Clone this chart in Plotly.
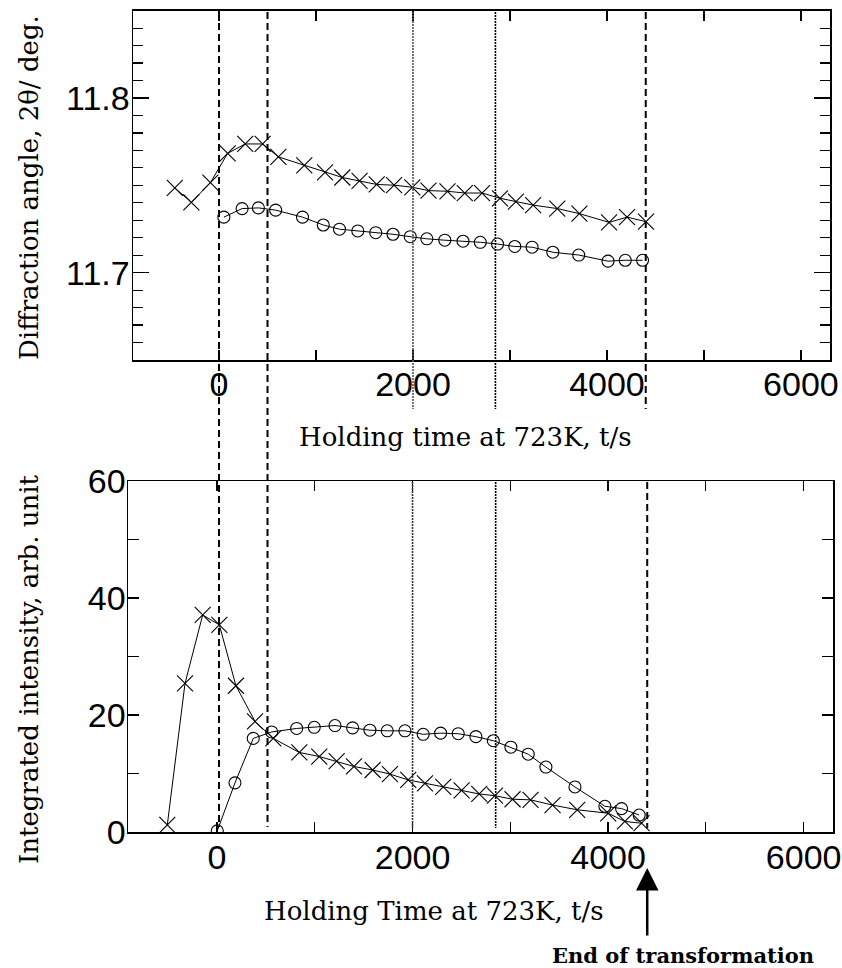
import plotly.graph_objects as go

W, H = 842, 968

# ---------------- data ----------------
top_cross_t = [-456, -285, -89, 89, 270, 450, 612, 879, 1093, 1271, 1449, 1626, 1805, 1993,
               2160, 2356, 2534, 2712, 2897, 3061, 3239, 3488, 3716, 4022, 4207, 4403]
top_cross_v = [11.7485, 11.7403, 11.7515, 11.7683, 11.7737, 11.7737, 11.7663, 11.7614, 11.7574,
               11.7545, 11.7525, 11.7505, 11.7501, 11.7489, 11.7470, 11.7466, 11.7456, 11.7456,
               11.7426, 11.7407, 11.7387, 11.7367, 11.7338, 11.7288, 11.7318, 11.7292]

top_circ_t = [50, 238, 406, 584, 861, 1075, 1242, 1431, 1616, 1794, 1972, 2143, 2328, 2516,
              2694, 2872, 3050, 3228, 3442, 3709, 4011, 4189, 4367]
top_circ_v = [11.7318, 11.7367, 11.7371, 11.7358, 11.7318, 11.7273, 11.7249, 11.7239, 11.7229,
              11.7220, 11.7206, 11.7194, 11.7186, 11.7180, 11.7174, 11.7164, 11.7150, 11.7146,
              11.7117, 11.7101, 11.7066, 11.7071, 11.7071]

bot_cross_t = [-508, -327, -146, 24, 194, 389, 576, 842, 1046, 1224, 1401, 1592, 1769, 1956,
               2127, 2314, 2502, 2682, 2843, 3023, 3207, 3432, 3684, 4001, 4172, 4342]
bot_cross_v = [1.2, 25.4, 37.1, 35.4, 25.0, 18.9, 16.0, 13.6, 12.9, 12.1, 11.2, 10.6, 9.9, 8.9,
               8.3, 7.7, 7.1, 6.5, 6.2, 5.6, 5.5, 4.6, 3.8, 3.2, 1.8, 1.5]

bot_circ_t = [3, 184, 371, 559, 815, 995, 1207, 1387, 1564, 1741, 1922, 2109, 2287, 2467,
              2648, 2826, 3006, 3183, 3364, 3661, 3967, 4138, 4318]
bot_circ_v = [0.2, 8.4, 16.0, 17.1, 17.7, 17.9, 18.2, 17.8, 17.4, 17.3, 17.3, 16.7, 16.9, 16.8,
              16.3, 15.6, 14.5, 13.3, 11.1, 7.7, 4.4, 4.0, 2.9]

x_ticks = [0, 2000, 4000, 6000]
top_y_ticks = [11.7, 11.8]
bot_y_ticks = [0, 20, 40, 60]
stage_times = [0, 500, 2000, 2850, 4400]
end_time = 4400

# ---------------- figure ----------------
def px_x(p):
    return p / W

def px_y(p):
    return 1 - p / H

fig = go.Figure()

cross_marker = dict(symbol="x-thin", size=16, color="black", line=dict(width=1.1, color="black"))
circ_marker = dict(symbol="circle-open", size=12, color="black", line=dict(width=1.1))

fig.add_trace(go.Scatter(x=top_cross_t, y=top_cross_v, mode="lines+markers",
                         line=dict(color="black", width=1), marker=cross_marker,
                         xaxis="x", yaxis="y", showlegend=False))
fig.add_trace(go.Scatter(x=top_circ_t, y=top_circ_v, mode="lines+markers",
                         line=dict(color="black", width=1), marker=circ_marker,
                         xaxis="x", yaxis="y", showlegend=False))
fig.add_trace(go.Scatter(x=bot_cross_t, y=bot_cross_v, mode="lines+markers",
                         line=dict(color="black", width=1), marker=cross_marker,
                         xaxis="x2", yaxis="y2", showlegend=False))
fig.add_trace(go.Scatter(x=bot_circ_t, y=bot_circ_v, mode="lines+markers",
                         line=dict(color="black", width=1), marker=circ_marker,
                         xaxis="x2", yaxis="y2", showlegend=False))

tickfont = dict(family="Liberation Sans, Arial, sans-serif", size=34, color="black")
common = dict(showline=True, linecolor="black", linewidth=1.5, mirror="ticks",
              ticks="inside", showgrid=False, zeroline=False, tickfont=tickfont,
              tickcolor="black", tickwidth=1.2)

fig.update_layout(
    width=W, height=H,
    margin=dict(l=0, r=0, t=0, b=0, autoexpand=False),
    paper_bgcolor="white", plot_bgcolor="white",
    hovermode=False,
    xaxis=dict(domain=[px_x(133), px_x(830)], range=[-887, 6300], anchor="y",
               tickvals=x_ticks, ticktext=[str(v) for v in x_ticks], ticklen=10,
               ticklabelstandoff=-6,
               minor=dict(dtick=1000, tick0=0, ticks="inside", ticklen=10, tickcolor="black"),
               **common),
    yaxis=dict(domain=[px_y(360), px_y(10.7)], range=[11.65, 11.85], anchor="x",
               tickvals=top_y_ticks, ticktext=["11.7", "11.8"], ticklen=16,
               ticklabelstandoff=-5,
               minor=dict(dtick=0.01, tick0=11.6, ticks="inside", ticklen=10, tickcolor="black"),
               **common),
    xaxis2=dict(domain=[px_x(128), px_x(833)], range=[-910, 6300], anchor="y2",
                tickvals=x_ticks, ticktext=[str(v) for v in x_ticks], ticklen=10,
                ticklabelstandoff=-5,
                minor=dict(dtick=1000, tick0=0, ticks="inside", ticklen=10, tickcolor="black"),
                **common),
    yaxis2=dict(domain=[px_y(832), px_y(481)], range=[0, 60], anchor="x2",
                tickvals=bot_y_ticks, ticktext=[str(v) for v in bot_y_ticks], ticklen=11,
                ticklabelstandoff=-6,
                minor=dict(dtick=10, tick0=0, ticks="inside", ticklen=11, tickcolor="black"),
                **common),
)

# vertical stage lines
dash_style = "7px,4px"
dot_style = "2px,1px"
shapes = []
for t in stage_times[:2]:
    shapes.append(dict(type="line", xref="x", yref="paper", x0=t, x1=t,
                       y0=px_y(12), y1=px_y(827),
                       line=dict(color="black", width=2, dash=dash_style)))
styles = {2000: ("#555555", dot_style, 1.6), 2850: ("black", dot_style, 1.6),
          4400: ("black", dash_style, 2)}
for t in stage_times[2:]:
    col, dsh, wd = styles[t]
    shapes.append(dict(type="line", xref="x", yref="paper", x0=t, x1=t,
                       y0=px_y(12), y1=px_y(409),
                       line=dict(color=col, width=wd, dash=dsh)))
    shapes.append(dict(type="line", xref="x2", yref="paper", x0=t, x1=t,
                       y0=px_y(482), y1=px_y(828),
                       line=dict(color="black" if t != 2000 else "#333333", width=wd, dash=dsh)))
fig.update_layout(shapes=shapes)

titlefont = dict(family="DejaVu Serif, serif", size=26, color="black")
ann = [
    dict(text="Holding time at 723K, t/s", x=px_x(466), y=px_y(437), xref="paper", yref="paper",
         showarrow=False, font=titlefont, xanchor="center", yanchor="middle"),
    dict(text="Holding Time at 723K, t/s", x=px_x(434), y=px_y(911), xref="paper", yref="paper",
         showarrow=False, font=titlefont, xanchor="center", yanchor="middle"),
    dict(text="Diffraction angle, 2θ/ deg.", x=px_x(29), y=px_y(188), xref="paper", yref="paper",
         showarrow=False, font=titlefont, textangle=-90, xanchor="center", yanchor="middle"),
    dict(text="Integrated intensity, arb. unit", x=px_x(29), y=px_y(669), xref="paper", yref="paper",
         showarrow=False, font=titlefont, textangle=-90, xanchor="center", yanchor="middle"),
    dict(text="<b>End of transformation</b>", x=px_x(683), y=px_y(955), xref="paper", yref="paper",
         showarrow=False, font=dict(family="DejaVu Serif, serif", size=21, color="black"),
         xanchor="center", yanchor="middle"),
    dict(text="", x=end_time, y=px_y(868), xref="x2", yref="paper", showarrow=True,
         ax=0, ay=69, axref="pixel", ayref="pixel", arrowhead=2, arrowsize=1.8,
         arrowwidth=2.5, arrowcolor="black"),
]
fig.update_layout(annotations=ann)

fig.write_html("out.html",
               config={"displayModeBar": False, "staticPlot": True},
               post_script="document.body.style.margin='0px';document.body.style.overflow='hidden';")
